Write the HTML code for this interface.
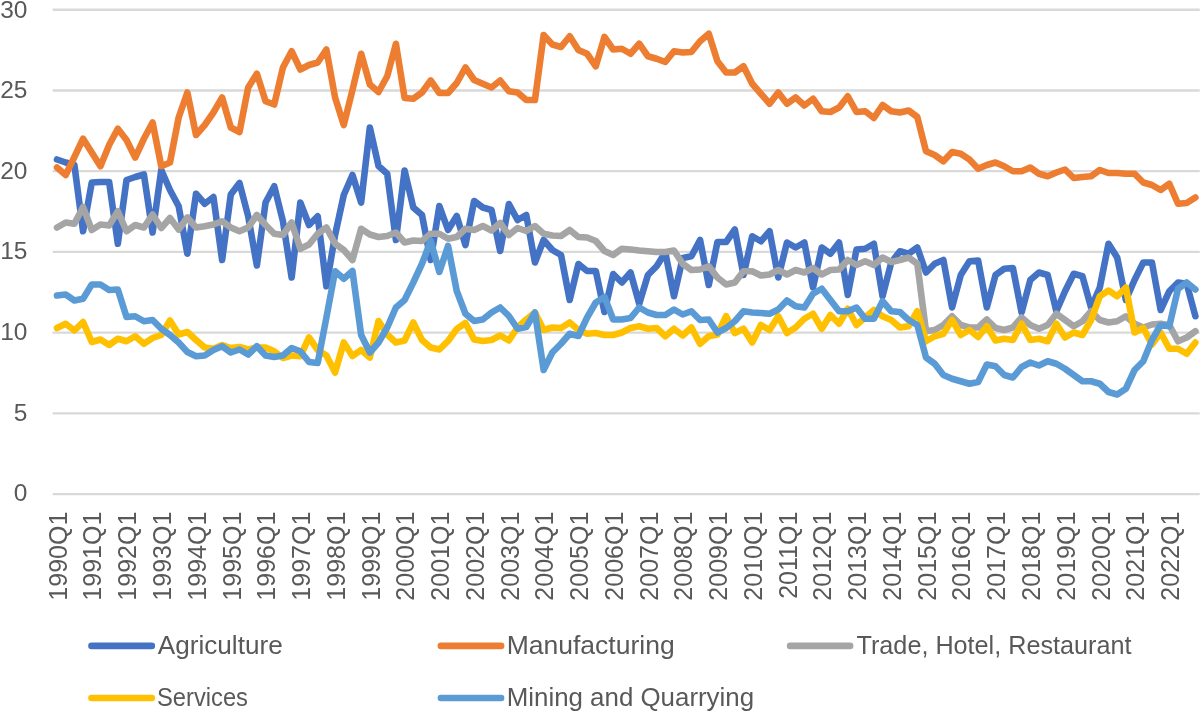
<!DOCTYPE html>
<html><head><meta charset="utf-8"><title>Chart</title>
<style>
html,body{margin:0;padding:0;background:#fff;}
svg{display:block;}
text{-webkit-font-smoothing:antialiased;}
.ty,.tx,.l{filter:grayscale(1);}
.ty{font-family:"Liberation Sans",sans-serif;font-size:24.5px;fill:#595959;}
.tx{font-family:"Liberation Sans",sans-serif;font-size:25px;fill:#595959;}
.l{font-family:"Liberation Sans",sans-serif;font-size:25px;fill:#595959;}
</style></head>
<body>
<svg width="1200" height="711" viewBox="0 0 1200 711">
<rect width="1200" height="711" fill="#fff"/>
<line x1="52.65" y1="494.10" x2="1199.7" y2="494.10" stroke="#D9D9D9" stroke-width="2.4"/>
<line x1="52.65" y1="413.37" x2="1199.7" y2="413.37" stroke="#D9D9D9" stroke-width="2.4"/>
<line x1="52.65" y1="332.63" x2="1199.7" y2="332.63" stroke="#D9D9D9" stroke-width="2.4"/>
<line x1="52.65" y1="251.90" x2="1199.7" y2="251.90" stroke="#D9D9D9" stroke-width="2.4"/>
<line x1="52.65" y1="171.16" x2="1199.7" y2="171.16" stroke="#D9D9D9" stroke-width="2.4"/>
<line x1="52.65" y1="90.43" x2="1199.7" y2="90.43" stroke="#D9D9D9" stroke-width="2.4"/>
<line x1="52.65" y1="9.69" x2="1199.7" y2="9.69" stroke="#D9D9D9" stroke-width="2.4"/>
<text x="27.4" y="17.90" text-anchor="end" class="ty">30</text>
<text x="27.4" y="97.60" text-anchor="end" class="ty">25</text>
<text x="27.4" y="178.50" text-anchor="end" class="ty">20</text>
<text x="27.4" y="259.20" text-anchor="end" class="ty">15</text>
<text x="27.4" y="339.50" text-anchor="end" class="ty">10</text>
<text x="27.4" y="420.50" text-anchor="end" class="ty">5</text>
<text x="27.4" y="501.10" text-anchor="end" class="ty">0</text>
<text transform="translate(66.70,511.7) rotate(-90)" text-anchor="end" class="tx">1990Q1</text>
<text transform="translate(101.46,511.7) rotate(-90)" text-anchor="end" class="tx">1991Q1</text>
<text transform="translate(136.22,511.7) rotate(-90)" text-anchor="end" class="tx">1992Q1</text>
<text transform="translate(170.98,511.7) rotate(-90)" text-anchor="end" class="tx">1993Q1</text>
<text transform="translate(205.74,511.7) rotate(-90)" text-anchor="end" class="tx">1994Q1</text>
<text transform="translate(240.50,511.7) rotate(-90)" text-anchor="end" class="tx">1995Q1</text>
<text transform="translate(275.26,511.7) rotate(-90)" text-anchor="end" class="tx">1996Q1</text>
<text transform="translate(310.02,511.7) rotate(-90)" text-anchor="end" class="tx">1997Q1</text>
<text transform="translate(344.78,511.7) rotate(-90)" text-anchor="end" class="tx">1998Q1</text>
<text transform="translate(379.54,511.7) rotate(-90)" text-anchor="end" class="tx">1999Q1</text>
<text transform="translate(414.30,511.7) rotate(-90)" text-anchor="end" class="tx">2000Q1</text>
<text transform="translate(449.06,511.7) rotate(-90)" text-anchor="end" class="tx">2001Q1</text>
<text transform="translate(483.82,511.7) rotate(-90)" text-anchor="end" class="tx">2002Q1</text>
<text transform="translate(518.58,511.7) rotate(-90)" text-anchor="end" class="tx">2003Q1</text>
<text transform="translate(553.34,511.7) rotate(-90)" text-anchor="end" class="tx">2004Q1</text>
<text transform="translate(588.10,511.7) rotate(-90)" text-anchor="end" class="tx">2005Q1</text>
<text transform="translate(622.86,511.7) rotate(-90)" text-anchor="end" class="tx">2006Q1</text>
<text transform="translate(657.62,511.7) rotate(-90)" text-anchor="end" class="tx">2007Q1</text>
<text transform="translate(692.38,511.7) rotate(-90)" text-anchor="end" class="tx">2008Q1</text>
<text transform="translate(727.14,511.7) rotate(-90)" text-anchor="end" class="tx">2009Q1</text>
<text transform="translate(761.90,511.7) rotate(-90)" text-anchor="end" class="tx">2010Q1</text>
<text transform="translate(796.66,511.7) rotate(-90)" text-anchor="end" class="tx">2011Q1</text>
<text transform="translate(831.42,511.7) rotate(-90)" text-anchor="end" class="tx">2012Q1</text>
<text transform="translate(866.18,511.7) rotate(-90)" text-anchor="end" class="tx">2013Q1</text>
<text transform="translate(900.94,511.7) rotate(-90)" text-anchor="end" class="tx">2014Q1</text>
<text transform="translate(935.70,511.7) rotate(-90)" text-anchor="end" class="tx">2015Q1</text>
<text transform="translate(970.46,511.7) rotate(-90)" text-anchor="end" class="tx">2016Q1</text>
<text transform="translate(1005.22,511.7) rotate(-90)" text-anchor="end" class="tx">2017Q1</text>
<text transform="translate(1039.98,511.7) rotate(-90)" text-anchor="end" class="tx">2018Q1</text>
<text transform="translate(1074.74,511.7) rotate(-90)" text-anchor="end" class="tx">2019Q1</text>
<text transform="translate(1109.50,511.7) rotate(-90)" text-anchor="end" class="tx">2020Q1</text>
<text transform="translate(1144.26,511.7) rotate(-90)" text-anchor="end" class="tx">2021Q1</text>
<text transform="translate(1179.02,511.7) rotate(-90)" text-anchor="end" class="tx">2022Q1</text>
<polyline points="57.00,159.50 65.69,162.50 74.38,165.00 83.07,231.25 91.76,182.50 100.45,182.00 109.14,182.00 117.83,243.75 126.52,180.00 135.21,177.00 143.90,174.50 152.59,232.50 161.28,170.00 169.97,190.00 178.66,206.25 187.35,253.75 196.04,193.75 204.73,203.75 213.42,197.00 222.11,260.00 230.80,194.50 239.49,183.00 248.18,216.25 256.87,265.50 265.56,202.50 274.25,186.25 282.94,221.25 291.63,277.50 300.32,202.50 309.01,225.00 317.70,216.25 326.39,286.25 335.08,235.00 343.77,195.00 352.46,175.00 361.15,202.50 369.84,127.50 378.53,166.00 387.22,173.75 395.91,240.00 404.60,170.50 413.29,207.50 421.98,215.00 430.67,260.00 439.36,206.00 448.05,230.00 456.74,216.00 465.43,245.00 474.12,201.00 482.81,207.50 491.50,210.00 500.19,251.00 508.88,204.00 517.57,220.00 526.26,215.00 534.95,262.50 543.64,240.00 552.33,250.00 561.02,255.00 569.71,300.00 578.40,264.00 587.09,271.00 595.78,271.00 604.47,312.00 613.16,274.00 621.85,282.50 630.54,272.50 639.23,303.75 647.92,275.00 656.61,266.25 665.30,252.50 673.99,296.25 682.68,258.00 691.37,256.25 700.06,240.00 708.75,285.00 717.44,242.00 726.13,242.00 734.82,229.50 743.51,275.00 752.20,236.25 760.89,241.25 769.58,231.25 778.27,277.50 786.96,242.50 795.65,247.50 804.34,242.50 813.03,287.50 821.72,247.50 830.41,253.75 839.10,242.50 847.79,295.00 856.48,249.50 865.17,248.75 873.86,243.75 882.55,296.25 891.24,262.50 899.93,251.25 908.62,253.75 917.31,247.50 926.00,272.50 934.69,263.75 943.38,260.00 952.07,307.50 960.76,275.00 969.45,261.25 978.14,260.50 986.83,307.50 995.52,275.00 1004.21,268.75 1012.90,268.00 1021.59,312.50 1030.28,280.00 1038.97,272.50 1047.66,275.00 1056.35,311.25 1065.04,291.25 1073.73,273.75 1082.42,276.25 1091.11,307.50 1099.80,287.50 1108.49,243.75 1117.18,257.50 1125.87,300.00 1134.56,280.00 1143.25,262.50 1151.94,262.50 1160.63,310.00 1169.32,291.25 1178.01,282.50 1186.70,283.75 1195.39,316.25" fill="none" stroke="#4472C4" stroke-width="6.6" stroke-linejoin="round" stroke-linecap="round"/>
<polyline points="57.00,167.50 65.69,175.00 74.38,157.00 83.07,138.75 91.76,152.50 100.45,166.25 109.14,145.00 117.83,128.75 126.52,140.00 135.21,157.50 143.90,138.75 152.59,122.50 161.28,166.25 169.97,162.50 178.66,117.50 187.35,92.50 196.04,135.00 204.73,125.00 213.42,112.50 222.11,97.50 230.80,127.50 239.49,132.00 248.18,87.50 256.87,73.75 265.56,101.25 274.25,104.50 282.94,67.50 291.63,51.25 300.32,69.50 309.01,65.00 317.70,62.50 326.39,49.50 335.08,97.50 343.77,125.00 352.46,90.00 361.15,53.75 369.84,84.50 378.53,92.00 387.22,76.25 395.91,43.75 404.60,98.00 413.29,98.75 421.98,92.50 430.67,80.50 439.36,93.00 448.05,93.00 456.74,83.00 465.43,67.50 474.12,80.00 482.81,83.75 491.50,87.50 500.19,80.50 508.88,91.25 517.57,92.50 526.26,100.00 534.95,100.00 543.64,35.00 552.33,44.50 561.02,47.00 569.71,36.25 578.40,50.00 587.09,53.75 595.78,66.25 604.47,37.00 613.16,49.50 621.85,48.75 630.54,53.75 639.23,43.75 647.92,56.25 656.61,58.75 665.30,62.00 673.99,51.25 682.68,52.50 691.37,52.00 700.06,41.25 708.75,33.75 717.44,61.25 726.13,72.50 734.82,72.50 743.51,66.25 752.20,83.75 760.89,93.75 769.58,103.75 778.27,92.50 786.96,103.75 795.65,97.50 804.34,105.50 813.03,98.75 821.72,111.25 830.41,112.00 839.10,107.50 847.79,96.25 856.48,112.00 865.17,111.25 873.86,118.00 882.55,105.00 891.24,111.25 899.93,112.50 908.62,110.50 917.31,117.00 926.00,151.25 934.69,155.00 943.38,161.25 952.07,152.00 960.76,153.75 969.45,159.50 978.14,168.75 986.83,165.00 995.52,162.50 1004.21,166.25 1012.90,171.25 1021.59,171.25 1030.28,167.50 1038.97,173.75 1047.66,176.25 1056.35,172.50 1065.04,169.50 1073.73,178.00 1082.42,177.00 1091.11,176.25 1099.80,170.00 1108.49,173.00 1117.18,173.00 1125.87,173.75 1134.56,173.75 1143.25,182.50 1151.94,185.00 1160.63,190.00 1169.32,183.75 1178.01,203.75 1186.70,203.00 1195.39,197.50" fill="none" stroke="#ED7D31" stroke-width="6.6" stroke-linejoin="round" stroke-linecap="round"/>
<polyline points="57.00,227.50 65.69,222.50 74.38,223.75 83.07,207.00 91.76,230.00 100.45,224.50 109.14,225.50 117.83,211.25 126.52,231.25 135.21,225.00 143.90,227.50 152.59,214.50 161.28,228.00 169.97,218.00 178.66,229.50 187.35,217.50 196.04,227.50 204.73,226.25 213.42,224.50 222.11,221.25 230.80,227.50 239.49,231.25 248.18,227.50 256.87,215.00 265.56,225.00 274.25,233.75 282.94,235.00 291.63,222.50 300.32,248.75 309.01,244.50 317.70,233.75 326.39,227.50 335.08,243.75 343.77,250.00 352.46,260.00 361.15,228.75 369.84,234.50 378.53,237.00 387.22,236.00 395.91,232.50 404.60,242.50 413.29,240.50 421.98,241.00 430.67,233.75 439.36,233.75 448.05,238.75 456.74,237.00 465.43,228.75 474.12,230.00 482.81,226.00 491.50,230.50 500.19,223.00 508.88,235.00 517.57,228.00 526.26,231.00 534.95,226.00 543.64,233.75 552.33,235.50 561.02,236.00 569.71,230.00 578.40,237.00 587.09,237.50 595.78,241.00 604.47,251.00 613.16,255.00 621.85,248.75 630.54,249.50 639.23,250.50 647.92,251.25 656.61,252.00 665.30,252.00 673.99,250.50 682.68,263.75 691.37,270.00 700.06,269.50 708.75,266.25 717.44,277.50 726.13,284.50 734.82,282.50 743.51,271.25 752.20,271.25 760.89,275.50 769.58,274.50 778.27,270.00 786.96,274.50 795.65,270.00 804.34,272.50 813.03,268.00 821.72,274.50 830.41,270.00 839.10,269.50 847.79,260.00 856.48,265.00 865.17,261.25 873.86,265.00 882.55,257.50 891.24,262.00 899.93,260.00 908.62,257.50 917.31,263.75 926.00,331.25 934.69,330.00 943.38,325.00 952.07,316.25 960.76,325.00 969.45,327.50 978.14,327.50 986.83,319.50 995.52,328.00 1004.21,330.00 1012.90,327.50 1021.59,317.50 1030.28,325.00 1038.97,328.75 1047.66,325.00 1056.35,313.75 1065.04,320.00 1073.73,326.25 1082.42,321.25 1091.11,311.25 1099.80,320.00 1108.49,322.50 1117.18,321.25 1125.87,316.25 1134.56,323.75 1143.25,327.50 1151.94,324.50 1160.63,323.75 1169.32,325.00 1178.01,341.25 1186.70,337.50 1195.39,331.25" fill="none" stroke="#A5A5A5" stroke-width="6.6" stroke-linejoin="round" stroke-linecap="round"/>
<polyline points="57.00,328.00 65.69,323.75 74.38,330.50 83.07,322.00 91.76,342.00 100.45,339.50 109.14,345.00 117.83,338.75 126.52,341.25 135.21,336.25 143.90,343.75 152.59,338.00 161.28,335.00 169.97,320.50 178.66,334.50 187.35,332.00 196.04,340.00 204.73,347.50 213.42,348.75 222.11,345.00 230.80,348.00 239.49,347.00 248.18,349.50 256.87,347.50 265.56,347.50 274.25,351.25 282.94,358.00 291.63,355.50 300.32,356.25 309.01,337.50 317.70,350.00 326.39,355.50 335.08,372.50 343.77,342.50 352.46,356.00 361.15,350.00 369.84,357.50 378.53,321.00 387.22,334.50 395.91,342.50 404.60,340.50 413.29,322.50 421.98,340.00 430.67,347.50 439.36,349.50 448.05,341.00 456.74,329.00 465.43,323.00 474.12,339.50 482.81,341.00 491.50,340.00 500.19,335.50 508.88,340.50 517.57,327.50 526.26,319.50 534.95,312.50 543.64,330.00 552.33,327.50 561.02,328.00 569.71,322.50 578.40,330.00 587.09,333.75 595.78,333.00 604.47,335.00 613.16,335.00 621.85,332.50 630.54,328.00 639.23,326.25 647.92,328.75 656.61,328.00 665.30,336.25 673.99,328.75 682.68,335.50 691.37,327.50 700.06,343.75 708.75,336.25 717.44,334.50 726.13,316.25 734.82,333.00 743.51,328.75 752.20,342.50 760.89,325.00 769.58,330.00 778.27,316.25 786.96,333.00 795.65,327.50 804.34,318.75 813.03,313.75 821.72,328.75 830.41,315.00 839.10,323.75 847.79,308.75 856.48,325.00 865.17,317.50 873.86,310.00 882.55,316.25 891.24,320.00 899.93,327.50 908.62,326.25 917.31,311.25 926.00,341.25 934.69,336.25 943.38,333.75 952.07,320.00 960.76,335.00 969.45,330.00 978.14,337.00 986.83,326.25 995.52,340.50 1004.21,338.75 1012.90,340.00 1021.59,323.75 1030.28,340.00 1038.97,338.75 1047.66,341.25 1056.35,323.75 1065.04,337.50 1073.73,332.50 1082.42,335.00 1091.11,320.00 1099.80,296.25 1108.49,290.50 1117.18,296.25 1125.87,287.50 1134.56,332.50 1143.25,328.00 1151.94,344.50 1160.63,332.50 1169.32,348.75 1178.01,348.75 1186.70,353.75 1195.39,342.50" fill="none" stroke="#FFC000" stroke-width="6.6" stroke-linejoin="round" stroke-linecap="round"/>
<polyline points="57.00,295.50 65.69,294.50 74.38,300.50 83.07,298.75 91.76,284.50 100.45,284.50 109.14,290.00 117.83,289.50 126.52,317.00 135.21,316.25 143.90,321.25 152.59,320.00 161.28,328.75 169.97,335.00 178.66,342.50 187.35,352.00 196.04,356.25 204.73,355.50 213.42,350.00 222.11,346.25 230.80,352.50 239.49,349.50 248.18,354.50 256.87,346.25 265.56,355.50 274.25,357.00 282.94,355.50 291.63,348.00 300.32,351.25 309.01,362.00 317.70,363.00 326.39,317.50 335.08,271.25 343.77,278.75 352.46,271.00 361.15,335.00 369.84,352.50 378.53,342.50 387.22,327.50 395.91,307.50 404.60,300.00 413.29,282.50 421.98,263.75 430.67,241.00 439.36,272.00 448.05,246.00 456.74,291.00 465.43,313.75 474.12,321.00 482.81,319.50 491.50,312.50 500.19,307.50 508.88,316.00 517.57,328.75 526.26,327.00 534.95,312.50 543.64,370.00 552.33,352.50 561.02,343.75 569.71,333.75 578.40,336.00 587.09,317.50 595.78,302.50 604.47,297.00 613.16,319.50 621.85,319.50 630.54,318.00 639.23,307.50 647.92,312.50 656.61,315.00 665.30,315.00 673.99,309.50 682.68,314.50 691.37,311.25 700.06,320.00 708.75,319.50 717.44,332.50 726.13,328.00 734.82,321.25 743.51,311.25 752.20,312.50 760.89,313.00 769.58,313.75 778.27,309.50 786.96,300.50 795.65,306.25 804.34,307.50 813.03,293.75 821.72,288.75 830.41,300.00 839.10,311.25 847.79,311.25 856.48,307.50 865.17,318.75 873.86,318.75 882.55,301.25 891.24,311.25 899.93,312.00 908.62,320.00 917.31,325.00 926.00,357.50 934.69,363.75 943.38,375.00 952.07,378.75 960.76,381.25 969.45,383.75 978.14,382.00 986.83,364.50 995.52,366.25 1004.21,375.00 1012.90,377.50 1021.59,367.00 1030.28,362.50 1038.97,365.50 1047.66,361.25 1056.35,363.75 1065.04,368.75 1073.73,375.00 1082.42,381.25 1091.11,381.25 1099.80,383.75 1108.49,392.00 1117.18,394.50 1125.87,388.75 1134.56,370.00 1143.25,361.25 1151.94,340.00 1160.63,325.00 1169.32,326.25 1178.01,288.75 1186.70,282.50 1195.39,289.50" fill="none" stroke="#5B9BD5" stroke-width="6.6" stroke-linejoin="round" stroke-linecap="round"/>
<line x1="91.5" y1="645.9" x2="151.8" y2="645.9" stroke="#4472C4" stroke-width="6.6" stroke-linecap="round"/>
<text x="157.75" y="653.55" class="l" textLength="125" lengthAdjust="spacingAndGlyphs">Agriculture</text>
<line x1="440.9" y1="645.9" x2="501.1" y2="645.9" stroke="#ED7D31" stroke-width="6.6" stroke-linecap="round"/>
<text x="506.7" y="653.55" class="l" textLength="168" lengthAdjust="spacingAndGlyphs">Manufacturing</text>
<line x1="790.1" y1="645.9" x2="850.1" y2="645.9" stroke="#A5A5A5" stroke-width="6.6" stroke-linecap="round"/>
<text x="856.5" y="653.55" class="l" textLength="275" lengthAdjust="spacingAndGlyphs">Trade, Hotel, Restaurant</text>
<line x1="91.5" y1="698.0" x2="151.8" y2="698.0" stroke="#FFC000" stroke-width="6.6" stroke-linecap="round"/>
<text x="157.0" y="705.75" class="l" textLength="91" lengthAdjust="spacingAndGlyphs">Services</text>
<line x1="440.9" y1="698.0" x2="501.1" y2="698.0" stroke="#5B9BD5" stroke-width="6.6" stroke-linecap="round"/>
<text x="506.7" y="705.75" class="l" textLength="247.4" lengthAdjust="spacingAndGlyphs">Mining and Quarrying</text>
</svg>
</body></html>
